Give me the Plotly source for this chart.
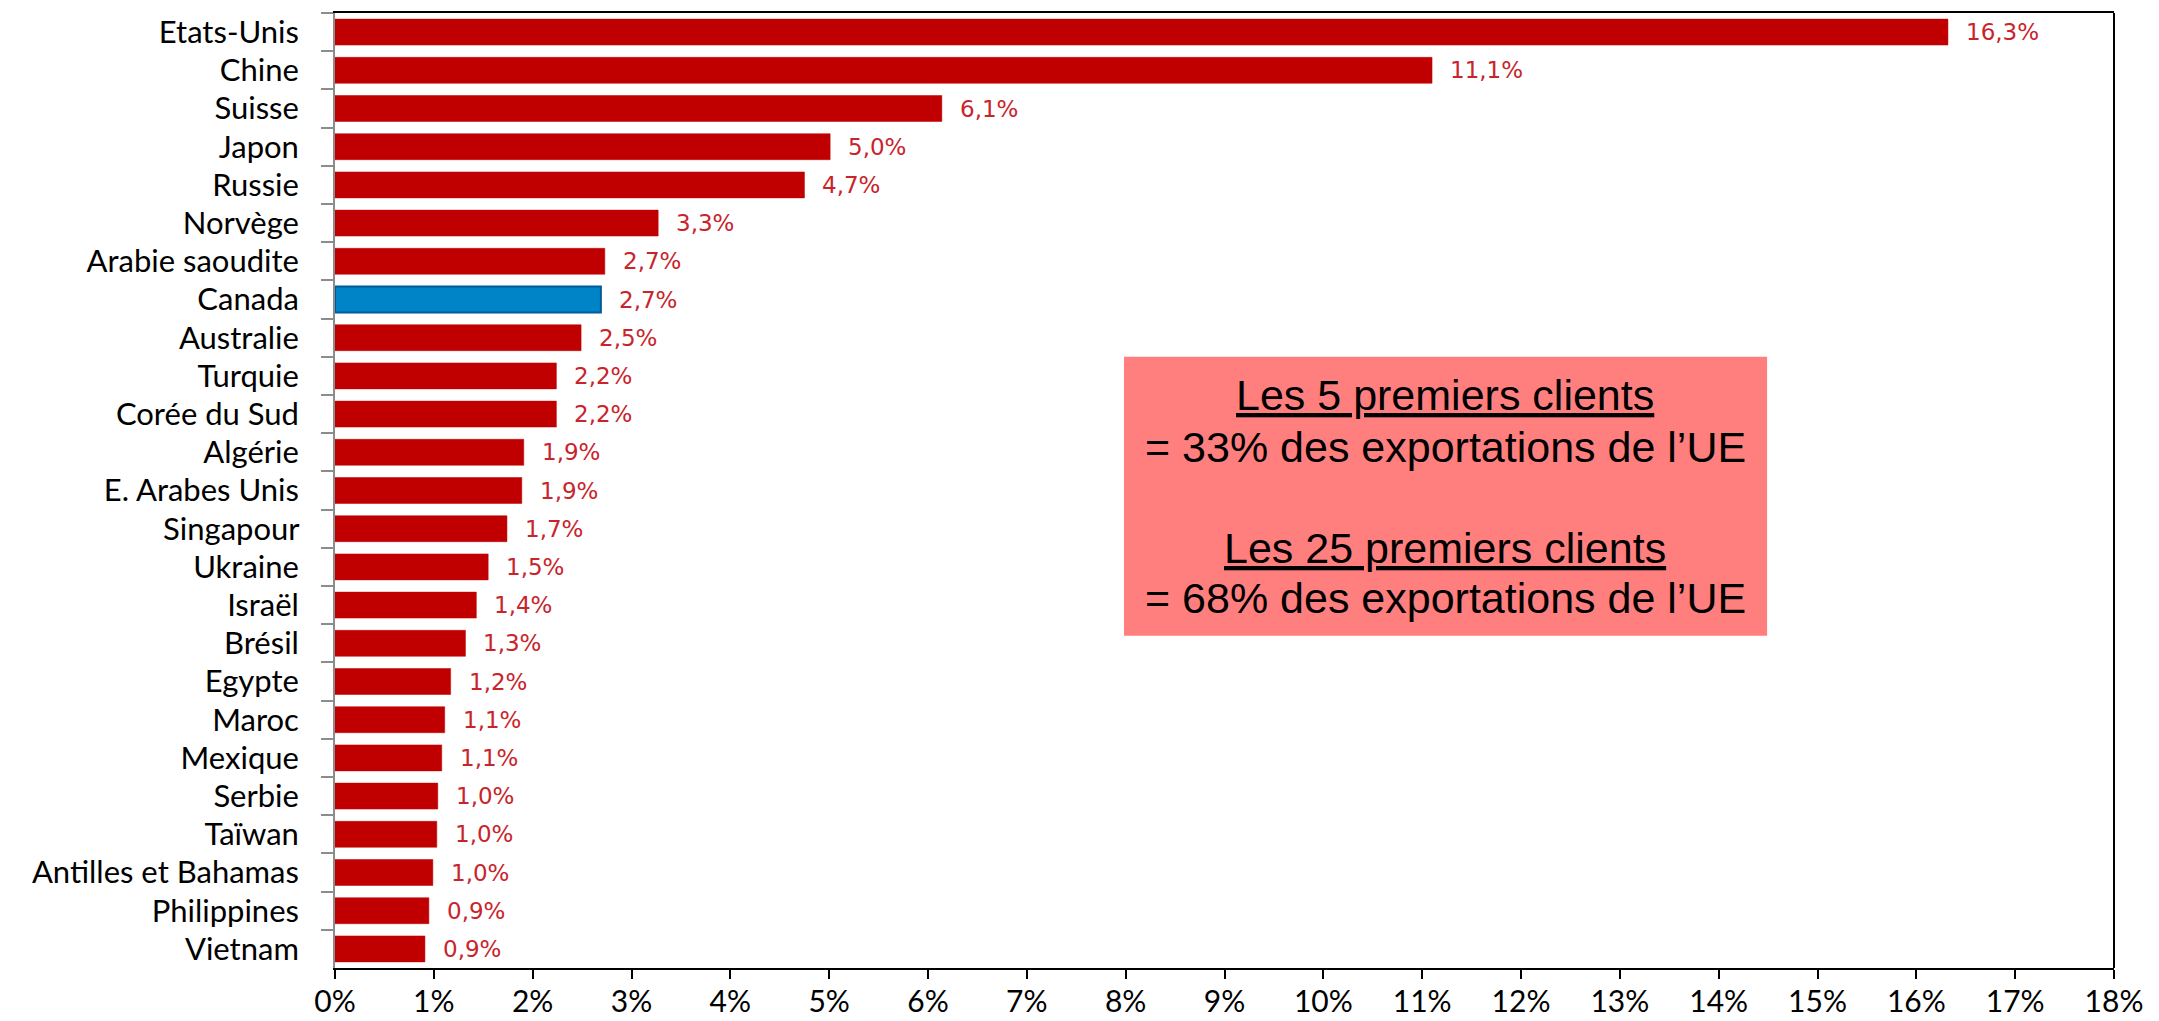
import plotly.graph_objects as go

countries = ["Etats-Unis", "Chine", "Suisse", "Japon", "Russie", "Norvège", "Arabie saoudite",
             "Canada", "Australie", "Turquie", "Corée du Sud", "Algérie", "E. Arabes Unis",
             "Singapour", "Ukraine", "Israël", "Brésil", "Egypte", "Maroc", "Mexique", "Serbie",
             "Taïwan", "Antilles et Bahamas", "Philippines", "Vietnam"]
shares = [16.32, 11.10, 6.14, 5.01, 4.75, 3.27, 2.73, 2.69, 2.49, 2.24, 2.24, 1.91, 1.89,
          1.74, 1.55, 1.43, 1.32, 1.17, 1.11, 1.08, 1.04, 1.03, 0.99, 0.95, 0.91]
share_labels = ["16,3%", "11,1%", "6,1%", "5,0%", "4,7%", "3,3%", "2,7%", "2,7%", "2,5%", "2,2%",
                "2,2%", "1,9%", "1,9%", "1,7%", "1,5%", "1,4%", "1,3%", "1,2%", "1,1%", "1,1%",
                "1,0%", "1,0%", "1,0%", "0,9%", "0,9%"]
x_ticks = list(range(0, 19))
x_tick_labels = [f"{t}%" for t in x_ticks]
highlight = "Canada"

box_lines = [("Les 5 premiers clients", True), ("= 33% des exportations de l’UE", False),
             ("Les 25 premiers clients", True), ("= 68% des exportations de l’UE", False)]

RED = "#C00000"
BLUE = "#0084C8"
fill = [BLUE if c == highlight else RED for c in countries]
line_col = ["#005A9C" if c == highlight else RED for c in countries]
line_w = [2 if c == highlight else 0.5 for c in countries]

fig = go.Figure()
fig.add_trace(go.Bar(
    x=shares, y=countries, orientation="h",
    marker=dict(color=fill, line=dict(color=line_col, width=line_w)),
    hoverinfo="x+y",
))

annotations = []
for c, v, lab in zip(countries, shares, share_labels):
    annotations.append(dict(x=v, y=c, xref="x", yref="y", text=lab, showarrow=False,
                            xanchor="left", yanchor="middle", xshift=16,
                            font=dict(family="DejaVu Sans", size=23, color="#C8242B")))

box_y = [0.600, 0.5455, 0.440, 0.387]
for (txt, ul), yy in zip(box_lines, box_y):
    f = dict(family="Liberation Sans", size=43, color="black")
    if ul:
        f["lineposition"] = "under"
    annotations.append(dict(x=0.624, y=yy, xref="paper", yref="paper", text=txt,
                            showarrow=False, xanchor="center", yanchor="middle", font=f))

# page body has an 8px default margin: offset compensated in size/margins
fig.update_layout(
    width=2151, height=1013,
    margin=dict(l=327, r=45, t=5, b=53, autoexpand=False),
    paper_bgcolor="white", plot_bgcolor="white",
    bargap=0.32,
    showlegend=False,
    annotations=annotations,
    shapes=[
        dict(type="rect", xref="paper", yref="paper", x0=0.4435, x1=0.805, y0=0.348, y1=0.640,
             fillcolor="#FF7F7F", line=dict(width=0), layer="below"),
        dict(type="line", xref="paper", yref="paper", x0=1, x1=1, y0=0, y1=1,
             line=dict(color="black", width=2)),
    ],
    xaxis=dict(range=[0, 18], tickvals=x_ticks, ticktext=x_tick_labels, automargin=False,
               showgrid=False, zeroline=False, showline=True, linecolor="black", linewidth=2,
               mirror=True, ticks="outside", ticklen=9, tickwidth=2, tickcolor="black",
               ticklabelstandoff=-3,
               tickfont=dict(family="Lato", size=30, color="black")),
    yaxis=dict(autorange="reversed", showgrid=False, zeroline=False, showline=True,
               automargin=False,
               linecolor="#8C8C8C", linewidth=2, ticks="outside", ticklen=12, tickwidth=2,
               tickcolor="#8C8C8C", tickson="boundaries", ticklabelstandoff=12,
               tickfont=dict(family="Lato", size=31, color="black"), ticksuffix="  "),
)

fig.write_html("out.html")
